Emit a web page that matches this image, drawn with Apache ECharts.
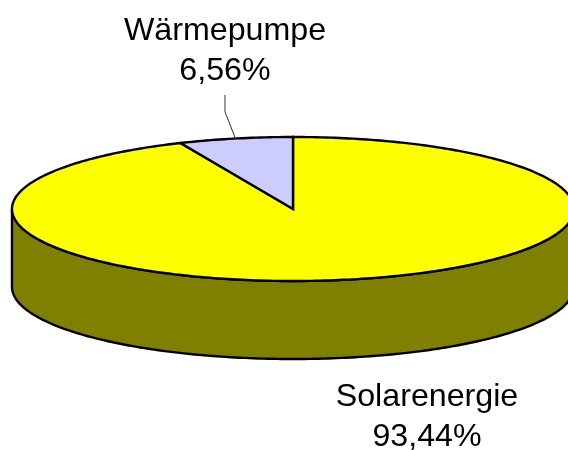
<!DOCTYPE html>
<html>
<head>
<meta charset="utf-8">
<style>
  html, body { margin: 0; padding: 0; background: #fff; }
  #chart { width: 568px; height: 450px; }
</style>
<script src="https://cdn.jsdelivr.net/npm/echarts@6/dist/echarts.min.js"></script>
</head>
<body>
<div id="chart"></div>
<script>
const categories = ['Solarenergie', 'Wärmepumpe'];
const values = [93.44, 6.56];
const colors = ['#ffff00', '#ccccff'];
const sideColors = ['#808000', '#666680'];
// where the two labels sit, centre x / top y
const labelPos = [[427, 377], [225, 11]];

const cx = 293, cy = 209, rx = 281, ry = 72, depth = 78;
const total = values[0] + values[1];

// t in radians, clockwise from 12 o'clock
function pt(t, dy) {
  return [cx + rx * Math.sin(t), cy - ry * Math.cos(t) + (dy || 0)];
}
// points along the rim between two angles
function arc(t0, t1, dy) {
  const pts = [];
  const n = Math.ceil(Math.abs(t1 - t0) * 60);
  for (let k = 0; k <= n; k++) pts.push(pt(t0 + (t1 - t0) * k / n, dy));
  return pts;
}

function renderSlice(params, api) {
  const i = params.dataIndex;
  let before = 0;
  for (let k = 0; k < i; k++) before += values[k];
  const a0 = before / total * Math.PI * 2;
  const a1 = (before + api.value(0)) / total * Math.PI * 2;
  const mid = (a0 + a1) / 2;
  const children = [];

  // the rim only shows on the front half of the disc
  const s0 = Math.max(a0, Math.PI / 2), s1 = Math.min(a1, Math.PI * 1.5);
  if (s1 > s0) {
    children.push({
      type: 'polygon',
      shape: { points: arc(s0, s1, depth).concat(arc(s1, s0, 0)) },
      style: { fill: sideColors[i], stroke: '#000', lineWidth: 2.4 }
    });
  }

  children.push({
    type: 'polygon',
    shape: { points: [[cx, cy]].concat(arc(a0, a1, 0)) },
    style: { fill: colors[i], stroke: '#000', lineWidth: 2.4, lineJoin: 'miter' }
  });

  // leader line, only the small slice has one
  if (a1 - a0 < Math.PI) {
    children.push({
      type: 'polyline',
      shape: { points: [[labelPos[i][0], 95], [labelPos[i][0], 112], pt(mid)] },
      style: { fill: 'none', stroke: '#333', lineWidth: 1 }
    });
  }

  children.push({
    type: 'text',
    style: {
      x: labelPos[i][0],
      y: labelPos[i][1],
      text: categories[i] + '\n' + api.value(0).toFixed(2).replace('.', ',') + '%',
      font: '32.2px "Liberation Sans", Arial, sans-serif',
      lineHeight: 40,
      align: 'center',
      verticalAlign: 'top',
      fill: '#000'
    }
  });

  return { type: 'group', children: children };
}

const chart = echarts.init(document.getElementById('chart'), null, { renderer: 'canvas' });
chart.setOption({
  backgroundColor: '#fff',
  animation: false,
  series: [{
    type: 'custom',
    coordinateSystem: 'none',
    renderItem: renderSlice,
    silent: true,
    clip: false,
    data: categories.map((name, i) => ({ name: name, value: [values[i]] }))
  }]
});
</script>
</body>
</html>
